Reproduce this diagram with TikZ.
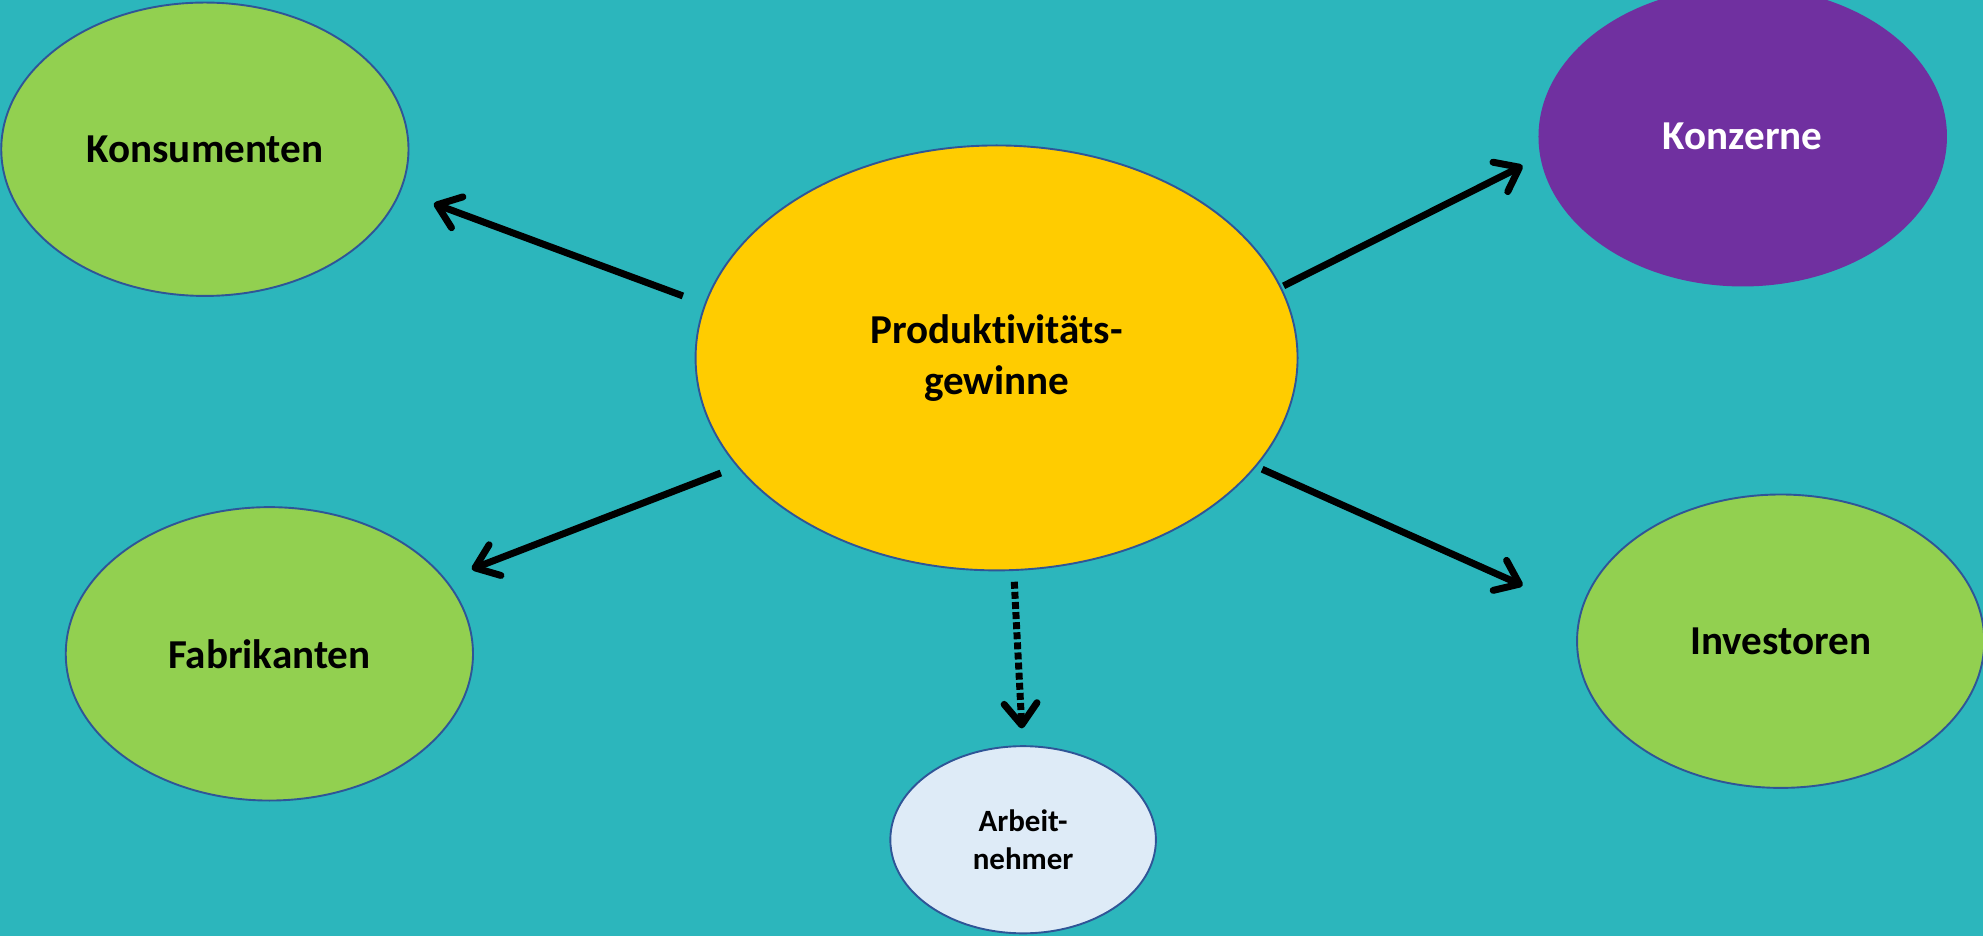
\documentclass[tikz,border=0pt]{standalone}
\usepackage{fontspec}
\setmainfont{Carlito}[RawFeature={-liga;-clig;-dlig}]
\usetikzlibrary{shapes.geometric,arrows.meta}
\definecolor{bg}{HTML}{2CB6BC}
\definecolor{grn}{HTML}{92D050}
\definecolor{ylw}{HTML}{FFCC00}
\definecolor{prp}{HTML}{7030A0}
\definecolor{lblue}{HTML}{DEEBF7}
\definecolor{edgeblue}{HTML}{2F5597}
\begin{document}
\begin{tikzpicture}[x=1pt,y=-1pt,
  bubble/.style={ellipse, draw=edgeblue, line width=1.5pt, inner sep=0pt, align=center,
    font=\fontsize{32.5}{40}\selectfont\bfseries},
  arr/.style={line width=5.5pt, line cap=butt,
    -{Straight Barb[length=17pt,width=26pt,line cap=round,line join=round]}},
  dotarr/.style={line width=5.5pt, line cap=butt, dash pattern=on 5.5pt off 2.5pt,
    -{Straight Barb[length=17pt,width=26pt,line cap=round,line join=round]}}
]
\fill[bg] (0,0) rectangle (1568,740);
\useasboundingbox (0,0) rectangle (1568,740);

\node[bubble, fill=grn, minimum width=322pt, minimum height=232pt] (kons) at (162,118) {Konsumenten};
\node[bubble, draw=none, fill=prp, text=white, minimum width=323pt, minimum height=237pt] (konz) at (1378,108) {Konzerne};
\node[bubble, fill=ylw, minimum width=476pt, minimum height=336pt] (prod) at (788,283) {Produktivitäts-\\gewinne};
\node[bubble, fill=grn, minimum width=322pt, minimum height=232pt] (fabr) at (213,517) {Fabrikanten};
\node[bubble, fill=grn, minimum width=322pt, minimum height=232pt] (inv) at (1408,507) {Investoren};
\node[bubble, fill=lblue, minimum width=210pt, minimum height=148pt,
  font=\fontsize{24.5}{30}\selectfont\bfseries] (arb) at (809,664) {Arbeit-\\nehmer};

\coordinate (s1) at (540,234);  \coordinate (e1) at (343,161);
\coordinate (s2) at (1015,226); \coordinate (e2) at (1204,131);
\coordinate (s3) at (570,374);  \coordinate (e3) at (373,450);
\coordinate (s4) at (998,371);  \coordinate (e4) at (1204,463);
\coordinate (s5) at (802,460);  \coordinate (e5) at (808,576);

\draw[arr] (s1) -- (e1);
\draw[arr] (s2) -- (e2);
\draw[arr] (s3) -- (e3);
\draw[arr] (s4) -- (e4);
\draw[dotarr] (s5) -- (e5);
\end{tikzpicture}
\end{document}
